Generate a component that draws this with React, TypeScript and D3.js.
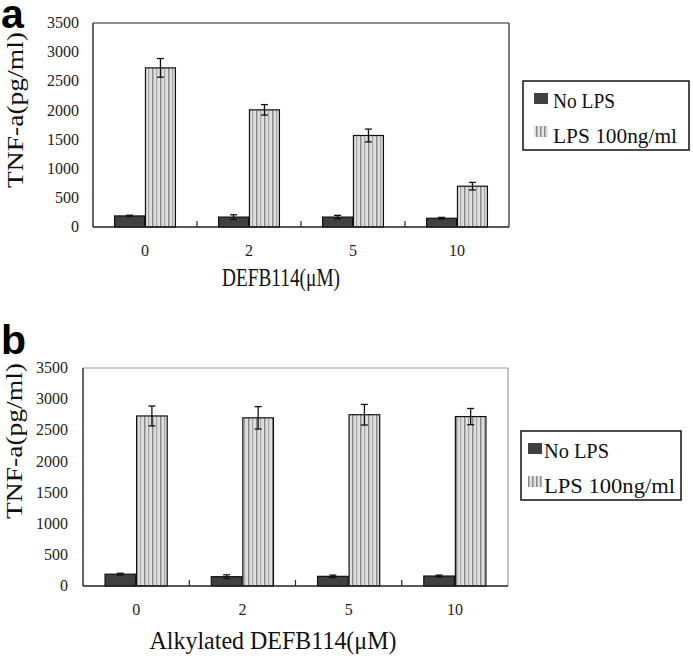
import React from 'react';
import { scaleBand, scaleLinear } from 'd3';

const categories = ['0', '2', '5', '10'];
const seriesNames = ['No LPS', 'LPS 100ng/ml'];
const yTicks = [0, 500, 1000, 1500, 2000, 2500, 3000, 3500];

// panel a: DEFB114
const noLpsA = [190, 170, 170, 150];
const noLpsAErr = [12, 40, 30, 15];
const lpsA = [2730, 2010, 1570, 700];
const lpsAErr = [160, 90, 110, 65];

// panel b: alkylated DEFB114
const noLpsB = [190, 150, 155, 160];
const noLpsBErr = [15, 30, 20, 15];
const lpsB = [2730, 2700, 2750, 2720];
const lpsBErr = [160, 180, 165, 130];

const FONT = '"Liberation Serif", "DejaVu Serif", serif';
const DARK = '#404040';

function Panel(props) {
  const { box, label, labelY, xTitle, xTitleX, xTitleY, xTitleLen, yTitleX, yTitleY,
    tickRight, legend, values, errors, frameColor } = props;
  const [left, top, right, bottom] = box;

  const y = scaleLinear().domain([0, 3500]).range([bottom, top]);
  const x0 = scaleBand().domain(categories).range([left, right]);
  const bw = x0.bandwidth();
  const gw = bw * 0.585;
  const x1 = scaleBand().domain(seriesNames).range([(bw - gw) / 2, (bw + gw) / 2]).paddingInner(0.03);

  return (
    <g>
      <text x={1} y={labelY} fontFamily='"Liberation Sans", Arial, sans-serif' fontWeight="bold" fontSize={41}>{label}</text>

      {/* bars */}
      {categories.map((c, i) => seriesNames.map((s, j) => {
        const v = values[j][i];
        const e = errors[j][i];
        const bx = x0(c) + x1(s);
        const cx = bx + x1.bandwidth() / 2;
        return (
          <g key={c + s}>
            <rect x={bx} y={y(v)} width={x1.bandwidth()} height={y(0) - y(v)}
              fill={j === 0 ? DARK : 'url(#stripes)'} stroke="#111" strokeWidth={1.2} />
            <line x1={cx} x2={cx} y1={y(v + e)} y2={y(v - e)} stroke="#111" strokeWidth={1.3} />
            <line x1={cx - 3.5} x2={cx + 3.5} y1={y(v + e)} y2={y(v + e)} stroke="#111" strokeWidth={1.3} />
            <line x1={cx - 3.5} x2={cx + 3.5} y1={y(v - e)} y2={y(v - e)} stroke="#111" strokeWidth={1.3} />
          </g>
        );
      }))}

      {/* frame */}
      <line x1={left} x2={right} y1={top} y2={top} stroke={frameColor} strokeWidth={1.2} />
      <line x1={right} x2={right} y1={top} y2={bottom} stroke={frameColor} strokeWidth={1.2} />
      <line x1={left} x2={left} y1={top} y2={bottom} stroke="#222" strokeWidth={1.4} />
      <line x1={left} x2={right} y1={bottom} y2={bottom} stroke="#222" strokeWidth={1.4} />

      {/* x ticks at category boundaries, pointing up */}
      {categories.slice(1).map(c => (
        <line key={c} x1={x0(c)} x2={x0(c)} y1={bottom} y2={bottom - 6} stroke="#222" strokeWidth={1.2} />
      ))}

      {categories.map(c => (
        <text key={c} x={x0(c) + bw / 2} y={bottom + 25} textAnchor="middle" dominantBaseline="middle"
          fontFamily={FONT} fontSize={16} fill="#222">{c}</text>
      ))}
      {yTicks.map(t => (
        <text key={t} x={tickRight} y={y(t) + 1.5} textAnchor="end" dominantBaseline="middle"
          fontFamily={FONT} fontSize={16} fill="#222">{t}</text>
      ))}

      <text x={xTitleX} y={xTitleY} textAnchor="middle" fontFamily={FONT} fontSize={25}
        textLength={xTitleLen} lengthAdjust="spacingAndGlyphs" fill="#111">{xTitle}</text>
      <text transform={`translate(${yTitleX},${yTitleY}) rotate(-90)`} textAnchor="middle"
        fontFamily={FONT} fontSize={24} textLength={156} lengthAdjust="spacingAndGlyphs" fill="#111">TNF-a(pg/ml)</text>

      {/* legend */}
      <rect x={legend.x} y={legend.y} width={legend.w} height={69} fill="white" stroke="#111" strokeWidth={1.5} />
      {seriesNames.map((s, j) => (
        <g key={s}>
          <rect x={legend.sx} y={legend.y + 12 + j * 33} width={14} height={11}
            fill={j === 0 ? DARK : 'url(#stripesSmall)'} />
          <text x={legend.tx} y={legend.y + 27 + j * 35} fontFamily={FONT} fontSize={22}
            textLength={j === 0 ? legend.l1 : legend.l2} lengthAdjust="spacingAndGlyphs" fill="#111">{s}</text>
        </g>
      ))}
    </g>
  );
}

export default function App() {
  return (
    <svg width={693} height={663} style={{ position: 'absolute', left: 0, top: 0, background: 'white' }}>
      <defs>
        <pattern id="stripes" patternUnits="userSpaceOnUse" width={8} height={10}>
          <rect width={8} height={10} fill="#dedede" />
          <rect x={0} width={1.5} height={10} fill="#8a8a8a" />
          <rect x={4} width={1.2} height={10} fill="#a6a6a6" />
        </pattern>
        <pattern id="stripesSmall" patternUnits="userSpaceOnUse" width={4} height={10}>
          <rect width={4} height={10} fill="#e2e2e2" />
          <rect x={0} width={1.5} height={10} fill="#8a8a8a" />
        </pattern>
      </defs>
      <Panel box={[93, 23, 509, 227]} label="a" labelY={28}
        xTitle="DEFB114(μM)" xTitleX={281} xTitleY={286} xTitleLen={118}
        yTitleX={23} yTitleY={110} tickRight={79}
        legend={{ x: 523, y: 81, w: 166, sx: 534, tx: 553, l1: 62, l2: 124 }}
        values={[noLpsA, lpsA]} errors={[noLpsAErr, lpsAErr]} frameColor="#222" />
      <Panel box={[83, 368, 508, 586]} label="b" labelY={354}
        xTitle="Alkylated DEFB114(μM)" xTitleX={273} xTitleY={649} xTitleLen={247}
        yTitleX={22} yTitleY={441} tickRight={68}
        legend={{ x: 521, y: 431, w: 160, sx: 528, tx: 544, l1: 65, l2: 131 }}
        values={[noLpsB, lpsB]} errors={[noLpsBErr, lpsBErr]} frameColor="#999" />
    </svg>
  );
}
